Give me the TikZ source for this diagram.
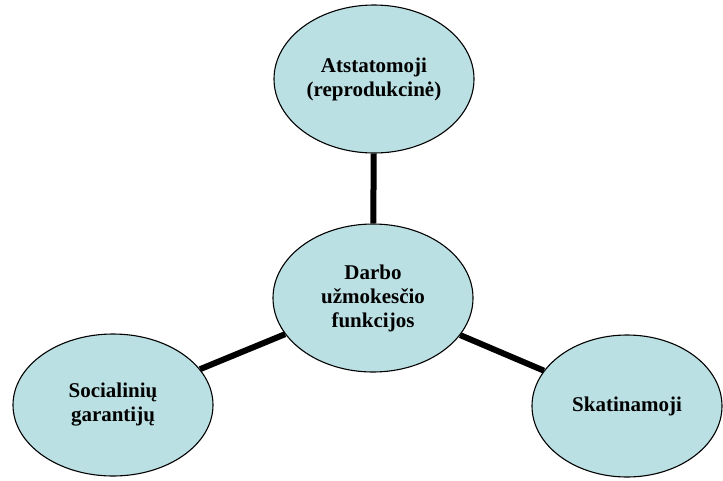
\documentclass[tikz,border=0pt]{standalone}
\usepackage{fontspec}
\setmainfont{Liberation Serif}
\usetikzlibrary{shapes.geometric}
\definecolor{fnfill}{RGB}{187,224,227}

\begin{document}
\begin{tikzpicture}[x=1pt, y=-1pt,
    fn/.style={ellipse, draw=black, fill=fnfill, line width=1.1pt,
               inner sep=0pt, align=center,
               font=\fontsize{21}{24}\selectfont\bfseries},
    bond/.style={draw=black, line width=6pt}]
  \useasboundingbox (0,0) rectangle (723,480);

  % ---------- the four functions ----------------------------------------
  \node[fn, minimum width=200pt, minimum height=148pt] (core) at (373,298)
    {Darbo\\ užmokesčio\\ funkcijos};
  \node[fn, minimum width=200pt, minimum height=148pt] (repr) at (374,79)
    {Atstatomoji\\ (reprodukcinė)};
  \node[fn, minimum width=200pt, minimum height=142pt] (soc) at (113,405)
    {Socialinių\\ garantijų};
  \node[fn, minimum width=190pt, minimum height=142pt] (skat) at (627,406)
    {Skatinamoji};

  % ---------- bonds to the centre ---------------------------------------
  \foreach \n in {repr,soc,skat} { \draw[bond] (core) -- (\n); }
\end{tikzpicture}
\end{document}
